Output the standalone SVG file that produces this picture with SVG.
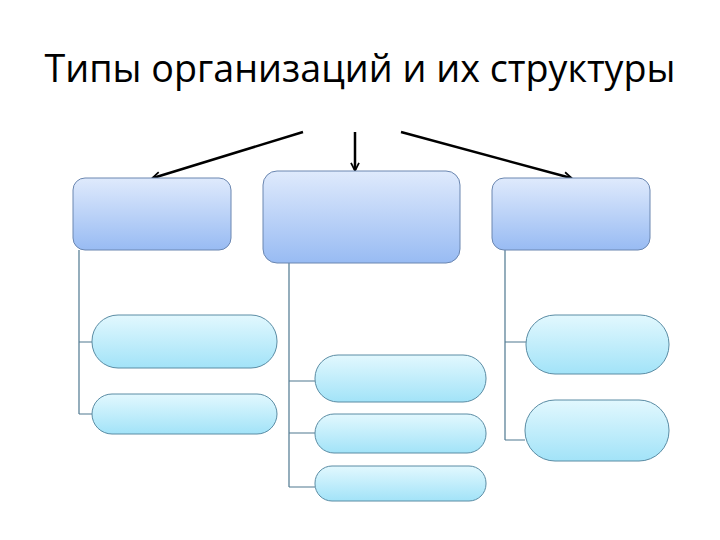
<svg xmlns="http://www.w3.org/2000/svg" width="720" height="540" viewBox="0 0 720 540">
<style>
.title{font-family:"Open Sans","Liberation Sans",sans-serif;font-size:39px;fill:#000}
.top{fill:url(#gTop);stroke:#6a86b0;stroke-width:1}
.child{fill:url(#gChild);stroke:#5a8ca4;stroke-width:1}
.tree{fill:none;stroke:#4f7890;stroke-width:1.2}
.arr{fill:none;stroke:#000;stroke-width:2.5;marker-end:url(#ah)}
</style>
<defs>
<linearGradient id="gTop" x1="0" y1="0" x2="0" y2="1">
<stop offset="0" stop-color="#dfeafc"/>
<stop offset="1" stop-color="#98bbf3"/>
</linearGradient>
<linearGradient id="gChild" x1="0" y1="0" x2="0" y2="1">
<stop offset="0" stop-color="#e2f8fe"/>
<stop offset="1" stop-color="#a2e3f8"/>
</linearGradient>
<marker id="ah" viewBox="0 0 10 10" refX="9" refY="5" markerWidth="8" markerHeight="8" orient="auto" markerUnits="userSpaceOnUse" overflow="visible">
<path d="M0,0 L10,5 L0,10" fill="none" stroke="#000" stroke-width="2.2"/>
</marker>
</defs>
<rect width="720" height="540" fill="#fff"/>
<text class="title" x="360" y="82" text-anchor="middle" textLength="631" lengthAdjust="spacingAndGlyphs">Типы организаций и их структуры</text>
<g id="connectors">
<line class="arr" x1="303" y1="132" x2="153" y2="178"/>
<line class="arr" x1="355" y1="132" x2="355" y2="170"/>
<line class="arr" x1="401" y1="132" x2="571" y2="178"/>
<path class="tree" d="M79,250 V414 M79,342 H92 M79,414 H92"/>
<path class="tree" d="M289,263 V487 M289,381 H315 M289,433 H315 M289,487 H315"/>
<path class="tree" d="M505,250 V440 M505,342 H526 M505,440 H525"/>
</g>
<g id="node-left"><rect class="top" x="73" y="178" width="158" height="72" rx="12"/></g>
<g id="node-center"><rect class="top" x="263" y="171" width="197" height="92" rx="14"/></g>
<g id="node-right"><rect class="top" x="492" y="178" width="158" height="72" rx="12"/></g>
<g id="left-child-1"><rect class="child" x="92" y="315" width="185" height="53" rx="26"/></g>
<g id="left-child-2"><rect class="child" x="92" y="394" width="185" height="40" rx="20"/></g>
<g id="center-child-1"><rect class="child" x="315" y="355" width="171" height="47" rx="23"/></g>
<g id="center-child-2"><rect class="child" x="315" y="414" width="171" height="39" rx="19"/></g>
<g id="center-child-3"><rect class="child" x="315" y="466" width="171" height="35" rx="17"/></g>
<g id="right-child-1"><rect class="child" x="526" y="315" width="143" height="59" rx="29"/></g>
<g id="right-child-2"><rect class="child" x="525" y="400" width="144" height="61" rx="30"/></g>
</svg>
